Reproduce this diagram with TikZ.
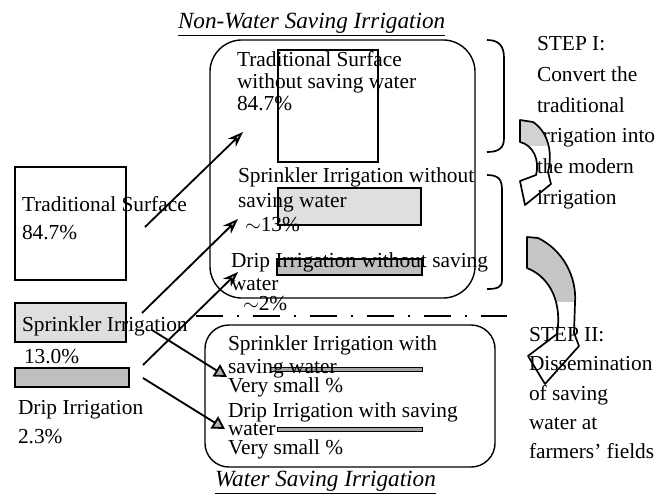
\documentclass[tikz,border=0pt]{standalone}
\usepackage{fontspec}
\setmainfont{Liberation Serif}
\usetikzlibrary{arrows.meta,positioning}

\begin{document}
\begin{tikzpicture}[x=0.025cm, y=-0.025cm, every node/.style={font=\fontsize{15.2}{16}\selectfont, inner sep=0pt, outer sep=0pt}]
\tikzset{lbl/.style={anchor=base west}}
\tikzset{ttl/.style={anchor=base west, font=\fontsize{16.5}{18}\selectfont\itshape}}
\tikzset{plain/.style={draw, line width=1.2pt}}
\tikzset{sprk/.style={draw, line width=1.2pt, fill=gray!25}}
\tikzset{drp/.style={draw, line width=1.2pt, fill=gray!50}}
\tikzset{bar/.style={draw, line width=0.6pt, fill=gray!70, minimum height=0.1cm}}
\tikzset{grp/.style={draw, line width=1pt}}
\tikzset{brk/.style={line width=1.2pt}}
\tikzset{curvarrow/.style={line width=1.2pt, line join=round}}
\tikzset{sepline/.style={line width=1.2pt, dash pattern=on 19pt off 10pt on 1.5pt off 10pt}}
\tikzset{link/.style={line width=1.3pt, -{Stealth[length=11pt,width=8pt,fill=gray!40]}}}
\tikzset{linkb/.style={line width=1.3pt, -{Triangle[length=9pt,width=10pt,fill=gray!60]}}}
\useasboundingbox (0,0) rectangle (666,494);

% shares before
\node[plain, minimum width=2.775cm, minimum height=2.825cm] (ts) at (70.5,223.5) {};
\node[sprk, minimum width=2.775cm, minimum height=0.975cm] (sp) at (70.5,322.5) {};
\node[drp, minimum width=2.85cm, minimum height=0.475cm] (dr) at (72,377.5) {};
\node[lbl] (tsl) at (22,211) {Traditional Surface};
\node[lbl] (tsv) at (22,239) {84.7\%};
\node[lbl] (spl) at (22,331) {Sprinkler Irrigation};
\node[lbl] (spv) at (24,363) {13.0\%};
\node[lbl] (drl) at (18,414) {Drip Irrigation};
\node[lbl] (drv) at (18,443) {2.3\%};

% non-water saving
\node[ttl] (nwt) at (178,28) {\underline{Non-Water Saving Irrigation}};
\node[grp, rounded corners=0.8cm, minimum width=6.625cm, minimum height=6.45cm] (nws) at (342.5,169) {};
\node[plain, minimum width=2.5cm, minimum height=2.8cm] (nts) at (328,106) {};
\node[sprk, minimum width=3.575cm, minimum height=0.925cm] (nsp) at (349.5,206.5) {};
\node[drp, minimum width=3.625cm, minimum height=0.4cm] (ndr) at (349.5,267) {};
\foreach \yy/\txt [count=\i] in {66/Traditional Surface, 88/without saving water, 110/84.7\%}
  \node[lbl] (ntl\i) at (237,\yy) {\txt};
\foreach \yy/\txt [count=\i] in {182/Sprinkler Irrigation without, 207/saving water}
  \node[lbl] (nsl\i) at (238,\yy) {\txt};
\node[lbl] (nsv) at (245,231) {$\sim$13\%};
\foreach \yy/\txt [count=\i] in {267/Drip Irrigation without saving, 290/water}
  \node[lbl] (ndl\i) at (231,\yy) {\txt};
\node[lbl] (ndv) at (243,310) {$\sim$2\%};

\draw[sepline] (196,316) -- (515,316);

% water saving
\node[grp, rounded corners=0.6cm, minimum width=7.25cm, minimum height=3.55cm] (ws) at (350,396) {};
\node[bar, minimum width=3.8cm] (wsb1) at (346,369) {};
\node[bar, minimum width=3.625cm] (wsb2) at (349.5,429) {};
\foreach \yy/\txt [count=\i] in {350/Sprinkler Irrigation with, 373/saving water, 392/Very small \%}
  \node[lbl] (wsl\i) at (228,\yy) {\txt};
\foreach \yy/\txt [count=\i] in {417/Drip Irrigation with saving, 435/water, 454/Very small \%}
  \node[lbl] (wdl\i) at (228,\yy) {\txt};
\node[ttl] (wst) at (215,486) {\underline{Water Saving Irrigation}};

% arrows from the present shares
\coordinate (a1s) at (145,227); \coordinate (a1e) at (243,132);
\coordinate (a2s) at (142,313); \coordinate (a2e) at (238,219);
\coordinate (a3s) at (143,365); \coordinate (a3e) at (238,272);
\coordinate (a4s) at (152,330); \coordinate (a4e) at (227,377);
\coordinate (a5s) at (143,378); \coordinate (a5e) at (225,429);
\draw[link] (a1s) -- (a1e);
\draw[link] (a2s) -- (a2e);
\draw[link] (a3s) -- (a3e);
\draw[linkb] (a4s) -- (a4e);
\draw[linkb] (a5s) -- (a5e);

% steps
\draw[brk] (487,40) .. controls (499,40) and (504,46) .. (504,58) -- (504,138) .. controls (504,148) and (499,152) .. (487,152);
\draw[brk] (487,175) .. controls (499,175) and (502,180) .. (502,190) -- (502,280) .. controls (502,287) and (498,289) .. (487,289);
\foreach \yy/\txt [count=\i] in {50/STEP I:, 81/Convert the, 112/traditional, 142/irrigation into, 173/the modern, 204/irrigation}
  \node[lbl] (st\i) at (537,\yy) {\txt};
\foreach \yy/\txt [count=\i] in {341/STEP II:, 370/Dissemination, 400/of saving, 429/water at, 458/farmers’ fields}
  \node[lbl] (su\i) at (529,\yy) {\txt};

\begin{scope}
\clip (520,120) -- (533,122) .. controls (548,132) and (553,152) .. (548,172) -- (551,184) -- (525,205) -- (520,181) -- (536,175) .. controls (540,160) and (533,145) .. (520,142) -- cycle;
\fill[gray!35] (515,115) rectangle (560,146);
\end{scope}
\draw[curvarrow] (520,120) -- (533,122) .. controls (548,132) and (553,152) .. (548,172) -- (551,184) -- (525,205) -- (520,181) -- (536,175) .. controls (540,160) and (533,145) .. (520,142) -- cycle;
\begin{scope}
\clip (527,237) -- (538,238) .. controls (563,250) and (577,277) .. (575,303) -- (574,333) -- (579,346) -- (545,384) -- (528,356) -- (557,334) .. controls (562,305) and (552,278) .. (527,268) -- cycle;
\fill[gray!45] (520,230) rectangle (585,302);
\end{scope}
\draw[curvarrow] (527,237) -- (538,238) .. controls (563,250) and (577,277) .. (575,303) -- (574,333) -- (579,346) -- (545,384) -- (528,356) -- (557,334) .. controls (562,305) and (552,278) .. (527,268) -- cycle;
\end{tikzpicture}
\end{document}
